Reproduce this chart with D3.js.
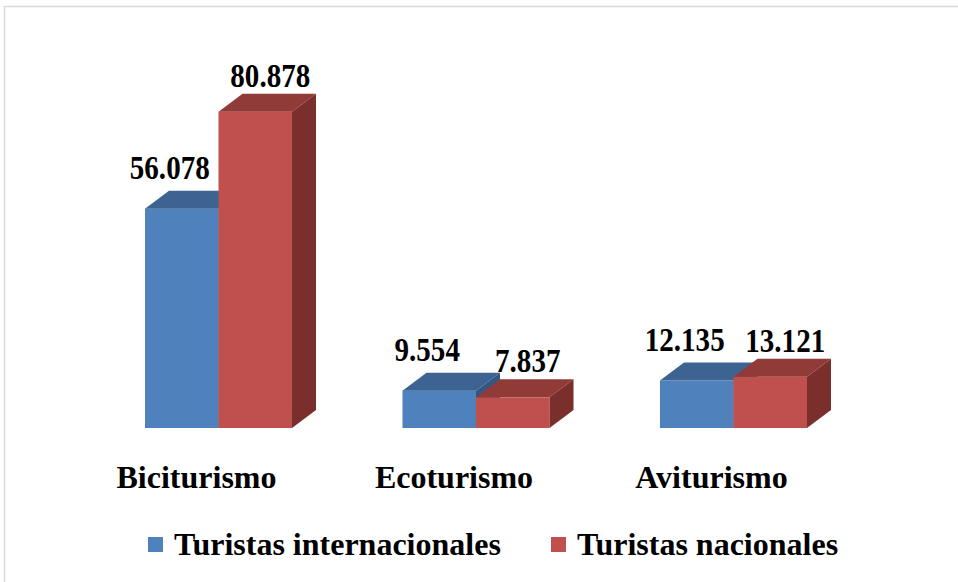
<!DOCTYPE html>
<html>
<head>
<meta charset="utf-8">
<script src="https://cdn.jsdelivr.net/npm/d3@7"></script>
<style>
  html, body { margin: 0; padding: 0; background: #fff; }
  svg { display: block; }
  text { font-family: "Liberation Serif", "Times New Roman", serif; font-weight: bold; fill: #000; }
</style>
</head>
<body>
<svg id="chart" width="958" height="582"></svg>
<script>
const categories = ["Biciturismo", "Ecoturismo", "Aviturismo"];
const seriesNames = ["Turistas internacionales", "Turistas nacionales"];
const internacionales = [56.078, 9.554, 12.135];
const nacionales = [80.878, 7.837, 13.121];
const valueLabels = [["56.078", "9.554", "12.135"], ["80.878", "7.837", "13.121"]];

const seriesValues = [internacionales, nacionales];
const colors = [
  { front: "#4F81BD", top: "#3C6392", side: "#345682" },
  { front: "#C0504D", top: "#913B39", side: "#7B2F2D" }
];

const svg = d3.select("#chart");

// frame
svg.append("rect").attr("x", 4.5).attr("y", 6.5).attr("width", 1000).attr("height", 700)
  .attr("fill", "#fff").attr("stroke", "#d9d9d9").attr("stroke-width", 1.5);

const baseY = 428;
const y = d3.scaleLinear().domain([0, 90]).range([baseY, baseY - 90 * 3.911]);
const x0 = d3.scaleBand().domain(categories).range([145, 807]).paddingInner(0.429).paddingOuter(0);
const x1 = d3.scaleBand().domain(seriesNames).range([0, x0.bandwidth()]).padding(0);

const dx = 24, dy = -18;

const g = svg.append("g");
categories.forEach((cat, ci) => {
  seriesNames.forEach((s, si) => {
    const v = seriesValues[si][ci];
    const xl = x0(cat) + x1(s);
    const xr = xl + x1.bandwidth();
    const yt = y(v), yb = y(0);
    const c = colors[si];
    g.append("rect").attr("x", xl).attr("y", yt).attr("width", xr - xl).attr("height", yb - yt)
      .attr("fill", c.front);
    g.append("path").attr("d", `M${xl},${yt}L${xl + dx},${yt + dy}L${xr + dx},${yt + dy}L${xr},${yt}Z`)
      .attr("fill", c.top);
    g.append("path").attr("d", `M${xr},${yt}L${xr + dx},${yt + dy}L${xr + dx},${yb + dy}L${xr},${yb}Z`)
      .attr("fill", c.side);
  });
});

// value labels
categories.forEach((cat, ci) => {
  seriesNames.forEach((s, si) => {
    const v = seriesValues[si][ci];
    const cx = x0(cat) + x1(s) + x1.bandwidth() / 2 + (si === 0 ? -12 : 15);
    const cy = y(v) - (si === 0 ? 30 : 25);
    svg.append("text").attr("transform", `translate(${cx},${cy}) scale(0.88,1)`)
      .attr("text-anchor", "middle").attr("font-size", 33)
      .text(valueLabels[si][ci]);
  });
});

// category labels
categories.forEach(cat => {
  svg.append("text").attr("x", x0(cat) + x0.bandwidth() / 2 - 22).attr("y", 488)
    .attr("text-anchor", "middle").attr("font-size", 32).text(cat);
});

// legend
const legendX = [148, 551];
seriesNames.forEach((s, si) => {
  svg.append("rect").attr("x", legendX[si]).attr("y", 537).attr("width", 15).attr("height", 15)
    .attr("fill", colors[si].front);
  svg.append("text").attr("x", legendX[si] + 26).attr("y", 555).attr("font-size", 32).text(s);
});
</script>
</body>
</html>
